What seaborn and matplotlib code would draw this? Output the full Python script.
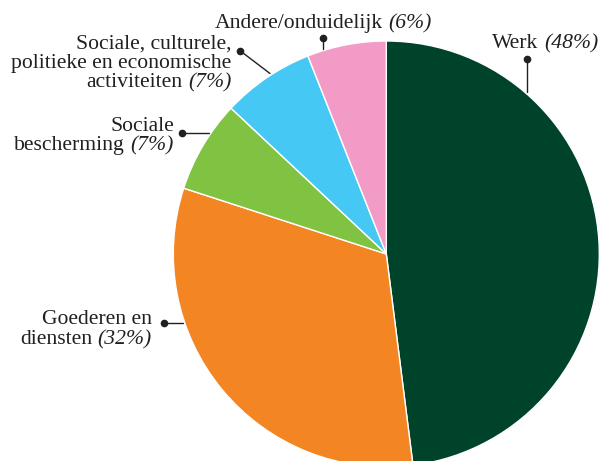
import matplotlib
matplotlib.use("Agg")
import matplotlib.pyplot as plt
import seaborn as sns

# data
categories = ["Werk", "Goederen en diensten", "Sociale bescherming",
              "Sociale, culturele, politieke en economische activiteiten",
              "Andere/onduidelijk"]
shares = [48, 32, 7, 7, 6]
label_lines = [["Werk"], ["Goederen en", "diensten"], ["Sociale", "bescherming"],
               ["Sociale, culturele,", "politieke en economische", "activiteiten"],
               ["Andere/onduidelijk"]]
colors = ["#00432b", "#f38622", "#80c241", "#45c8f4", "#f29bc6"]

sns.set_style("white")
plt.rcParams["font.family"] = ["Liberation Serif", "DejaVu Serif"]
FS = 15.6

W, H = 601, 461
CX, CY, R = 386.3, 254, 213

fig = plt.figure(figsize=(W / 100, H / 100), dpi=100)
ax = fig.add_axes([(CX - R) / W, (H - CY - R) / H, 2 * R / W, 2 * R / H])

wedges, _ = ax.pie(shares, colors=sns.color_palette(colors), startangle=90,
                   counterclock=False, radius=1,
                   wedgeprops=dict(edgecolor="white", linewidth=1.0))
for w in wedges:
    w.set_clip_on(False)
ax.set_xlim(-1, 1)
ax.set_ylim(-1, 1)
ax.axis("off")


def px(x, y):
    return (x - CX) / R, (CY - y) / R


# label layout: right edge x, baselines, dot, line end (pixels)
layout = [
    dict(x=598, ys=[48.3], dot=(526.7, 59), end=(526.7, 92)),
    dict(x=151.7, ys=[324, 344], dot=(164, 323.3), end=(183, 323.3)),
    dict(x=174, ys=[131, 150], dot=(181.7, 133.3), end=(208.5, 133.3)),
    dict(x=231.5, ys=[48.3, 67.7, 87.3], dot=(240, 50.7), end=(270, 73.5)),
    dict(x=432, ys=[28.3], dot=(322.7, 37.7), end=(322.7, 49)),
]

for lines, share, lay in zip(label_lines, shares, layout):
    for i, (txt, y) in enumerate(zip(lines, lay["ys"])):
        tx, ty = px(lay["x"], y)
        if i == len(lines) - 1:
            it = ax.text(tx, ty, f"({share}%)", style="italic", fontsize=FS,
                         ha="right", va="baseline", color="#231f20")
            ax.annotate(txt, xy=(0, 0), xycoords=it, xytext=(-4, 0),
                        textcoords="offset points", ha="right", va="bottom",
                        fontsize=FS, color="#231f20")
        else:
            ax.text(tx, ty, txt, fontsize=FS, ha="right", va="baseline",
                    color="#231f20")
    d = px(*lay["dot"])
    e = px(*lay["end"])
    ax.plot([d[0], e[0]], [d[1], e[1]], color="#231f20", lw=1.0, clip_on=False)
    ax.plot(d[0], d[1], "o", color="#231f20", ms=4.5, clip_on=False)

fig.savefig("out.png", dpi=100)
